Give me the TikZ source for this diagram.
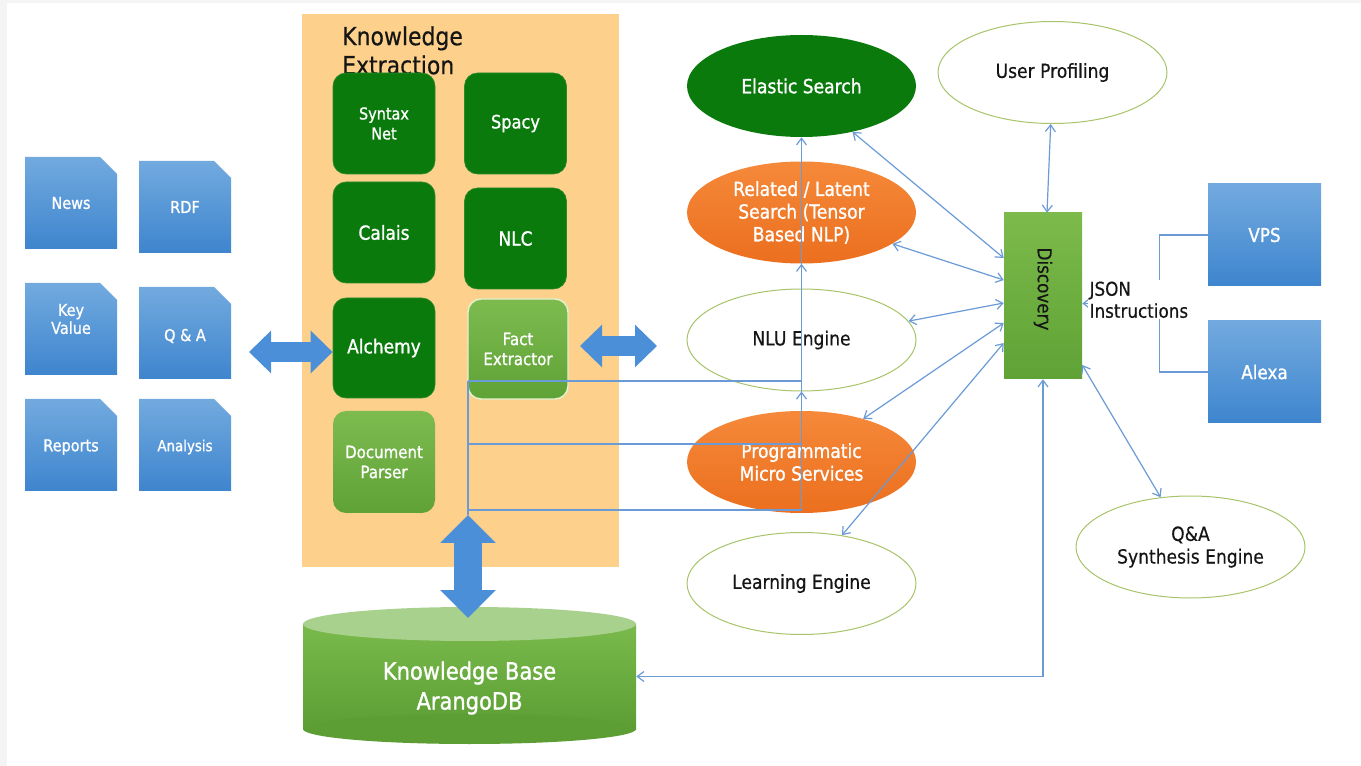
\documentclass[tikz,border=0pt]{standalone}
\usepackage{fontspec}
\setmainfont{DejaVu Sans}[FakeStretch=0.88]
\newfontfamily\wfont{DejaVu Sans}[FakeStretch=0.88, FakeBold=1.1]
\newfontfamily\kfont{DejaVu Sans}[FakeStretch=0.88, FakeBold=0.35]
\usetikzlibrary{shapes.geometric,arrows.meta,calc}

\definecolor{framegray}{HTML}{F4F4F4}
\definecolor{kebg}{HTML}{FDD18B}
\definecolor{dkgreen}{HTML}{0B7A0D}
\definecolor{dkedge}{HTML}{2C8A2C}
\definecolor{lgA}{HTML}{7DBB4F}
\definecolor{lgB}{HTML}{5FA236}
\definecolor{lgedge}{HTML}{E4F2D0}
\definecolor{docA}{HTML}{72AADF}
\definecolor{docB}{HTML}{3E85CE}
\definecolor{orA}{HTML}{F5893A}
\definecolor{orB}{HTML}{EB6F1E}
\definecolor{olive}{HTML}{A8C46A}
\definecolor{lnblue}{HTML}{6B9BD7}
\definecolor{fatblue}{HTML}{4A8FD8}
\definecolor{kbA}{HTML}{7ABA4C}
\definecolor{kbB}{HTML}{5C9E34}
\definecolor{kbTop}{HTML}{A9D18E}
\definecolor{dsA}{HTML}{7CBA4B}
\definecolor{dsB}{HTML}{5FA235}
\definecolor{txt}{HTML}{151515}

% document tile with a cut top-right corner: name, left, top, text y-offset, label
\newcommand\docbox[5]{%
  \shade[top color=docA, bottom color=docB]
    (#2,#3) -- ++(75,0) -- ++(17,17) -- ++(0,75) -- ++(-92,0) -- cycle;
  \node[doctext] (#1) at ($(#2,#3)+(46,46+#4)$) {#5};
}

\begin{document}
\begin{tikzpicture}[x=0.75pt,y=-0.75pt,
  doctext/.style={text=white, align=center, inner sep=0pt,
    font={\wfont\fontsize{12.3}{13.5}\selectfont}},
  gbox/.style={rounded corners=9.75pt, fill=dkgreen, draw=dkedge, line width=0.5pt,
    text=white, minimum width=76.5pt, minimum height=75.75pt, inner sep=1pt, align=center},
  lgbox/.style={rounded corners=9.75pt, top color=lgA, bottom color=lgB,
    text=white, minimum width=76.5pt, minimum height=75.75pt, inner sep=1pt, align=center,
    font={\wfont\fontsize{12.8}{15}\selectfont}},
  ell/.style={ellipse, minimum width=171.75pt, minimum height=76.5pt, inner sep=0pt,
    align=center, font={\kfont\fontsize{14.6}{17}\selectfont}},
  wellipse/.style={ell, draw=olive, line width=0.75pt, fill=white, text=txt},
  oellipse/.style={ell, top color=orA, bottom color=orB, text=white,
    font={\wfont\fontsize{14.6}{17}\selectfont}},
  vbox/.style={top color=docA, bottom color=docB, text=white, minimum width=84.75pt,
    minimum height=76.5pt, inner sep=0pt, font={\wfont\fontsize{14.3}{17}\selectfont}},
  lb/.tip={Straight Barb[length=5pt,width=7.5pt,line width=0.9pt]},
  conn/.style={draw=lnblue, line width=0.9pt},
  fatH/.style={draw=fatblue, line width=15pt,
    {Triangle[length=16.5pt,width=31pt]}-{Triangle[length=16.5pt,width=31pt]}},
  fatV/.style={draw=fatblue, line width=21pt,
    {Triangle[length=21pt,width=40.5pt]}-{Triangle[length=21pt,width=40.5pt]}}
]
\useasboundingbox (0,0) rectangle (1361,766);
\fill[framegray] (0,0) rectangle (1361,766);
\fill[white] (7,3) rectangle (1361,766);

% source documents
\docbox{news}{25}{157}{0}{News}
\docbox{rdf}{139}{161}{0}{RDF}
\docbox{kv}{25}{283}{-10}{Key\\Value}
\docbox{qa}{139}{287}{3}{Q \& A}
\docbox{rep}{25}{399}{2}{Reports}
\shade[top color=docA, bottom color=docB]
  (139,399) -- ++(75,0) -- ++(17,17) -- ++(0,75) -- ++(-92,0) -- cycle;
\node[doctext, font={\wfont\fontsize{11.4}{13}\selectfont}] (ana) at (185,447) {Analysis};

% knowledge extraction panel
\node[fill=kebg, minimum width=237.75pt, minimum height=414.75pt, inner sep=0pt] (KE) at (460.5,290.5) {};
\node[anchor=north west, align=left, inner sep=0pt, text=txt,
  font={\kfont\fontsize{18.7}{21.75}\selectfont}] (KEt) at (342,26) {Knowledge\\Extraction};

\node[gbox, font={\wfont\fontsize{12.3}{15}\selectfont}] (SN) at (384,123.5) {Syntax\\Net};
\node[gbox, font={\wfont\fontsize{13.8}{16}\selectfont}] (SP) at (515.5,123.5) {Spacy};
\node[gbox, font={\wfont\fontsize{14.5}{16}\selectfont}] (CA) at (384,232.5) {Calais};
\node[gbox, font={\wfont\fontsize{14.5}{16}\selectfont}] (NLC) at (515.5,238.5) {NLC};
\node[gbox, font={\wfont\fontsize{14.5}{16}\selectfont}, minimum height=75pt] (AL) at (384,348) {Alchemy};
\node[lgbox, draw=lgedge, line width=1.1pt, minimum width=75pt, minimum height=75pt] (FE) at (518,349) {Fact\\Extractor};
\node[lgbox, minimum height=76.5pt] (DP) at (384,462) {Document\\Parser};

% services
\node[ell, fill=dkgreen, text=white, font={\wfont\fontsize{14.6}{17}\selectfont}] (ES) at (801.5,86) {Elastic Search};
\node[oellipse] (RL) at (801.5,212.5) {Related / Latent\\Search (Tensor\\Based NLP)};
\node[wellipse] (NLU) at (801.5,340) {NLU Engine};
\node[oellipse] (PM) at (801.5,462) {Programmatic\\Micro Services};
\node[wellipse] (LE) at (801.5,583.5) {Learning Engine};
\node[wellipse] (UP) at (1052.5,72.5) {User Profiling};
\node[wellipse] (QA) at (1190.5,547) {Q\&A\\Synthesis Engine};

% knowledge base cylinder
\shade[top color=kbA, bottom color=kbB] (303,624) rectangle (636,729);
\fill[kbB] (469.5,729) ellipse [x radius=166.5, y radius=15];
\fill[kbTop] (469.5,624) ellipse [x radius=166.5, y radius=17];
\node[minimum width=249.75pt, minimum height=79.5pt, inner sep=0pt] (KB) at (469.5,676.5) {};
\node[text=white, align=center, inner sep=0pt,
  font={\wfont\fontsize{17.9}{22.5}\selectfont}] (KBt) at (469.5,688) {Knowledge Base\\ArangoDB};

% discovery hub and voice front ends
\node[top color=dsA, bottom color=dsB, minimum width=58.5pt, minimum height=124.5pt, inner sep=0pt] (D) at (1043,296) {};
\node[rotate=-90, text=txt, inner sep=0pt, font={\kfont\fontsize{14.3}{17}\selectfont}] (Dt) at (1043,289) {Discovery};
\node[vbox] (VPS) at (1264.5,235) {VPS};
\node[vbox] (AX) at (1264.5,372) {Alexa};

% extraction output feeding the search and NLU services
\coordinate (kA) at (468,381);
\coordinate (kB) at (468,444);
\coordinate (kC) at (468,510);
\coordinate (dTop) at (468,515);
\coordinate (dBot) at (468,618);
\draw[conn] (kA) -- (dTop);
\draw[conn] (kA) -- (kA -| ES.south);
\draw[conn] (kB) -- (kB -| ES.south);
\draw[conn] (kC) -- (kC -| ES.south);
\draw[conn, -{lb}] (kC -| ES.south) -- (ES.south);
\draw[conn, -{lb}] (kC -| ES.south) -- (RL.south);
\draw[conn, -{lb}] (kC -| ES.south) -- (NLU.south);

% discovery links
\draw[conn, {lb}-{lb}] (ES.-42) -- ($(D.west)+(0,-38)$);
\draw[conn, {lb}-{lb}] (RL.-19) -- ($(D.west)+(0,-16)$);
\draw[conn, {lb}-{lb}] (NLU.10) -- ($(D.west)+(0,7)$);
\draw[conn, {lb}-{lb}] (PM.35) -- ($(D.west)+(0,27)$);
\draw[conn, {lb}-{lb}] (LE.50) -- ($(D.west)+(0,47)$);
\draw[conn, {lb}-{lb}] (UP.-92) -- ($(D.north)+(4,0)$);
\draw[conn, {lb}-{lb}] ($(D.east)+(0,69)$) -- (QA.121);
\draw[conn, {lb}-{lb}] (D.south) |- (KB.east);

% voice front ends to discovery
\draw[conn] (VPS.west) -- ++(-48,0) |- (AX.west);
\coordinate (jm) at ($(VPS.west)!0.5!(AX.west)+(-48,0)$);
\draw[conn, -{lb}] (jm) -- (jm -| D.east);

% bulk transfer arrows
\coordinate (lA) at (249,352);
\draw[fatH] (lA) -- (lA -| AL.west);
\coordinate (rA) at (580,346);
\coordinate (rB) at (657,346);
\draw[fatH] (rA) -- (rB);
\draw[fatV] (dTop) -- (dBot);

\node[anchor=north west, fill=white, inner sep=1pt, align=left, text=txt,
  font={\kfont\fontsize{14.3}{16.5}\selectfont}] (json) at (1088,280) {JSON\\Instructions};
\end{tikzpicture}
\end{document}
